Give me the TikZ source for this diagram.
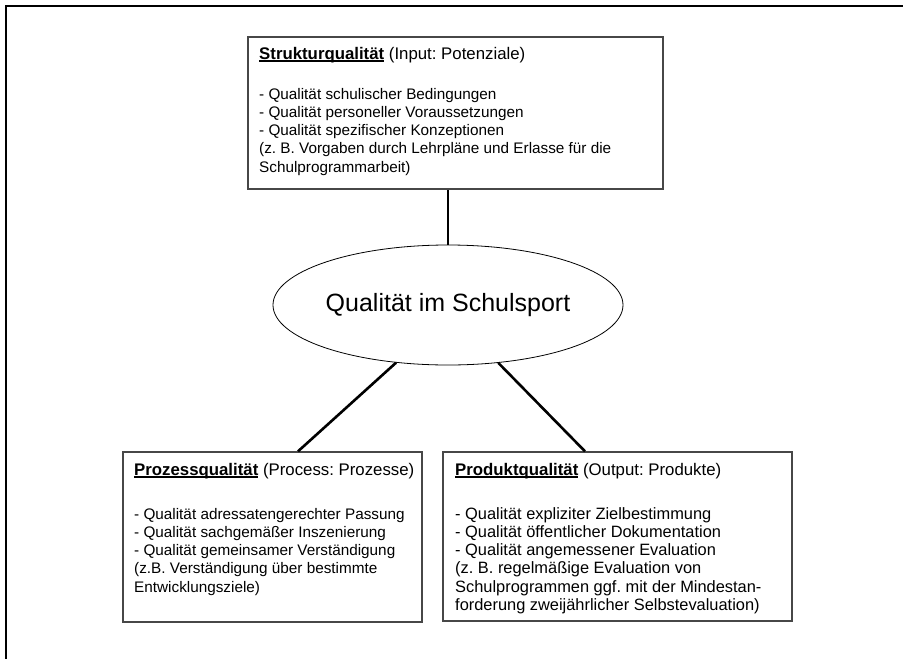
\documentclass[tikz,border=0pt]{standalone}
\usepackage{fontspec}
\setmainfont{Liberation Sans}
\usetikzlibrary{shapes.geometric}

% bold heading with a Word-style underline at a fixed depth
\newcommand\ulhead[1]{\leavevmode\setbox0\hbox{\bfseries #1}\rlap{\rule[-2.7pt]{\wd0}{1.3pt}}\box0\relax}
% heading line of a box: underlined bold term and its note, set a little larger
\newcommand\boxhead[2]{{\fontsize{16.8}{18.3}\selectfont\ulhead{#1} #2}}

\tikzset{
  frame/.style={line width=2.4pt, draw=black},
  qbox/.style={draw=black!72, line width=1.3pt, rectangle, inner sep=0pt},
  tblock/.style={inner sep=0pt, anchor=base west, font=\fontsize{15.3}{18.3}\selectfont\frenchspacing},
  tblockwide/.style={tblock, font=\fontsize{16.4}{18.3}\selectfont\frenchspacing},
  hub/.style={ellipse, draw=black, line width=0.8pt, inner sep=0pt,
              minimum width=350pt, minimum height=120pt,
              font=\fontsize{25}{30}\selectfont},
  link/.style={line width=2.6pt, draw=black}
}

\begin{document}
\begin{tikzpicture}[x=1pt, y=-1pt]
  \useasboundingbox (0,0) rectangle (903,659);
  \clip (0,0) rectangle (903,659);

  % outer page frame (runs past the right and bottom edges)
  \draw[frame] (6,6) rectangle (1000,1000);

  % three quality boxes
  \node[qbox, minimum width=415pt, minimum height=152pt] (struk) at (455.5,113) {};
  \node[qbox, minimum width=299pt, minimum height=170pt] (proz) at (272.5,537) {};
  \node[qbox, minimum width=349pt, minimum height=169pt] (prod) at (617.5,536.5) {};

  % central ellipse
  \node[hub] (hub) at (448,305) {Qualität im Schulsport};

  % box texts
  \node[tblock] (strukT) at (259,59) {\parbox[t]{400pt}{%
    \boxhead{Strukturqualität}{(Input: Potenziale)}\\[21.7pt]
    - Qualität schulischer Bedingungen\\
    - Qualität personeller Voraussetzungen\\
    - Qualität spezifischer Konzeptionen\\
    (z. B. Vorgaben durch Lehrpläne und Erlasse für die\\
    Schulprogrammarbeit)}};

  \node[tblock] (prozT) at (134,475) {\parbox[t]{285pt}{%
    \boxhead{Prozessqualität}{(Process: Prozesse)}\\[25.7pt]
    - Qualität adressatengerechter Passung\\
    - Qualität sachgemäßer Inszenierung\\
    - Qualität gemeinsamer Verständigung\\
    (z.B. Verständigung über bestimmte\\
    Entwicklungsziele)}};

  \node[tblockwide] (prodT) at (455,475) {\parbox[t]{335pt}{%
    \boxhead{Produktqualität}{(Output: Produkte)}\\[25.7pt]
    - Qualität expliziter Zielbestimmung\\
    - Qualität öffentlicher Dokumentation\\
    - Qualität angemessener Evaluation\\
    (z. B. regelmäßige Evaluation von\\
    Schulprogrammen ggf. mit der Mindestan-\\
    forderung zweijährlicher Selbstevaluation)}};

  % connectors
  \draw[link] (hub.north) -- (hub.north |- struk.south);
  \draw[link] (hub.228) -- ([xshift=25.5pt]proz.north);
  \draw[link] (hub.311) -- ([xshift=-32.5pt]prod.north);
\end{tikzpicture}
\end{document}
